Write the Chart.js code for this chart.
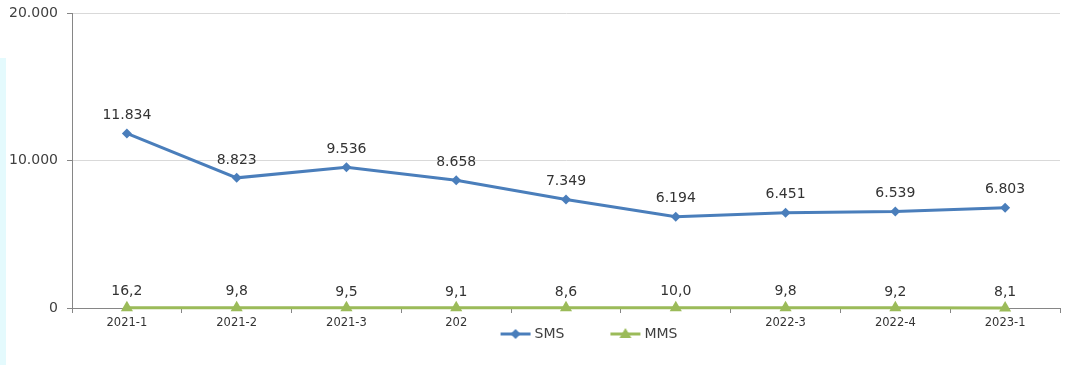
<!DOCTYPE html>
<html>
<head>
<meta charset="utf-8">
<script src="https://cdn.jsdelivr.net/npm/chart.js@4/dist/chart.umd.min.js"></script>
<style>
  html, body { margin: 0; padding: 0; background: #fff; }
  #wrap { position: relative; width: 1082px; height: 365px; }
  #strip { position: absolute; left: 0; top: 58px; width: 6px; height: 307px; background: #e4fafd; }
  canvas { position: absolute; left: 0; top: 0; }
</style>
</head>
<body>
<div id="wrap">
  <div id="strip"></div>
  <canvas id="chart" width="1082" height="365"></canvas>
</div>
<script>
const categories = ['2021-1', '2021-2', '2021-3', '2021-4', '2022-1', '2022-2', '2022-3', '2022-4', '2023-1']
// labels as they show on the axis (the legend covers some of them)
const tickLabels = ['2021-1', '2021-2', '2021-3', '202', '', '', '2022-3', '2022-4', '2023-1']
const smsValues = [11834, 8823, 9536, 8658, 7349, 6194, 6451, 6539, 6803]
const mmsValues = [16.2, 9.8, 9.5, 9.1, 8.6, 10.0, 9.8, 9.2, 8.1]
const yTicks = [0, 10000, 20000]

const blue = '#4a7ebb'
const green = '#9bbb59'
const textColor = '#404040'
const font = 'DejaVu Sans'

const fmtThousands = v => String(Math.round(v)).replace(/\B(?=(\d{3})+(?!\d))/g, '.')
const fmtDecimal = v => v.toFixed(1).replace('.', ',')
const labelFormats = [fmtThousands, fmtDecimal]
const labelOffsets = [18, 16]

// legend swatch: blank space on the left, then a line with its marker
const ICON_BOX = 73
const legendIcon = (color, shape) => {
  const c = document.createElement('canvas')
  c.width = ICON_BOX + 8
  c.height = 14
  const g = c.getContext('2d')
  const x0 = c.width - 31
  const cx = x0 + 15
  g.strokeStyle = color
  g.lineWidth = 3
  g.beginPath()
  g.moveTo(x0, 7)
  g.lineTo(x0 + 30, 7)
  g.stroke()
  g.fillStyle = color
  g.beginPath()
  if (shape === 'diamond') {
    g.moveTo(cx, 2); g.lineTo(cx + 5, 7); g.lineTo(cx, 12); g.lineTo(cx - 5, 7)
  } else {
    g.moveTo(cx, 1); g.lineTo(cx + 6, 11); g.lineTo(cx - 6, 11)
  }
  g.closePath()
  g.fill()
  return c
}
const legendIcons = [legendIcon(blue, 'diamond'), legendIcon(green, 'triangle')]

const valueLabels = {
  id: 'valueLabels',
  afterDatasetsDraw(chart) {
    const { ctx } = chart
    ctx.save()
    ctx.font = `14px "${font}"`
    ctx.fillStyle = '#333'
    ctx.textAlign = 'center'
    ctx.textBaseline = 'middle'
    chart.data.datasets.forEach((ds, i) => {
      chart.getDatasetMeta(i).data.forEach((pt, j) => {
        ctx.fillText(labelFormats[i](ds.data[j]), pt.x, pt.y - labelOffsets[i])
      })
    })
    ctx.restore()
  }
}

new Chart(document.getElementById('chart'), {
  type: 'line',
  data: {
    labels: categories,
    datasets: [
      {
        label: 'SMS',
        data: smsValues,
        borderColor: blue,
        backgroundColor: blue,
        borderWidth: 3,
        pointStyle: 'rectRot',
        pointRadius: 5,
        pointBorderWidth: 0,
        tension: 0,
        clip: false,
      },
      {
        label: 'MMS',
        data: mmsValues,
        borderColor: green,
        backgroundColor: green,
        borderWidth: 3,
        pointStyle: 'triangle',
        pointRadius: 7,
        pointBorderWidth: 0,
        tension: 0,
        clip: false,
      },
    ],
  },
  options: {
    responsive: false,
    animation: false,
    layout: { padding: { top: 13, right: 22, bottom: 14, left: 0 } },
    plugins: {
      tooltip: { enabled: false },
      legend: {
        position: 'bottom',
        fullSize: false,
        labels: {
          usePointStyle: true,
          pointStyleWidth: ICON_BOX,
          padding: 0,
          color: textColor,
          font: { family: font, size: 14 },
          generateLabels: chart => chart.data.datasets.map((ds, i) => ({
            text: ds.label,
            datasetIndex: i,
            pointStyle: legendIcons[i],
            fillStyle: ds.borderColor,
            strokeStyle: ds.borderColor,
            lineWidth: 0,
            fontColor: textColor,
            hidden: false,
          })),
        },
      },
    },
    scales: {
      x: {
        offset: true,
        afterFit: scale => { scale.height = 19 },
        grid: { offset: true, drawOnChartArea: false, tickLength: 5, tickColor: '#868686' },
        border: { color: '#868686' },
        ticks: {
          autoSkip: false,
          maxRotation: 0,
          padding: 3,
          color: '#333',
          font: { family: font, size: 11.5 },
          callback: (v, i) => tickLabels[i],
        },
      },
      y: {
        min: yTicks[0],
        max: yTicks[yTicks.length - 1],
        afterBuildTicks: scale => { scale.ticks = yTicks.map(value => ({ value })) },
        afterFit: scale => {
          scale.width = 72
          scale.paddingTop = 0
          scale.paddingBottom = 0
        },
        grid: {
          color: ctx => (ctx.tick && ctx.tick.value === 0 ? 'rgba(0,0,0,0)' : '#d9d9d9'),
          tickLength: 5,
          tickColor: '#868686',
        },
        border: { color: '#868686' },
        ticks: {
          padding: 9,
          color: textColor,
          font: { family: font, size: 14 },
          callback: v => fmtThousands(v),
        },
      },
    },
  },
  plugins: [valueLabels],
})
</script>
</body>
</html>
